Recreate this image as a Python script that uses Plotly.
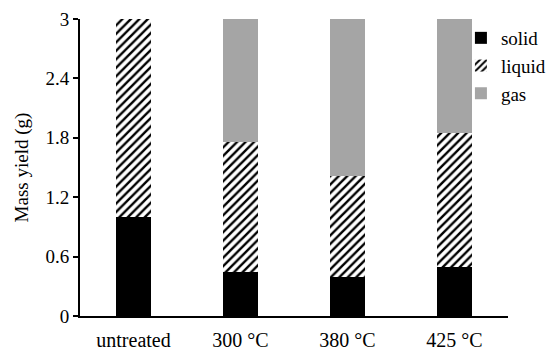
import plotly.graph_objects as go

categories = ["untreated", "300 °C", "380 °C", "425 °C"]
solid = [1.00, 0.44, 0.39, 0.50]
liquid = [2.00, 1.32, 1.02, 1.35]
gas = [0.00, 1.24, 1.59, 1.15]
y_ticks = [0, 0.6, 1.2, 1.8, 2.4, 3]
y_tick_labels = ["0", "0.6", "1.2", "1.8", "2.4", "3"]

FONT = "Liberation Serif"

fig = go.Figure()
fig.add_trace(go.Bar(x=categories, y=solid, name="solid",
                     marker=dict(color="black", line=dict(width=0))))
fig.add_trace(go.Bar(x=categories, y=liquid, name="liquid",
                     marker=dict(color="white", line=dict(width=0),
                                 pattern=dict(shape="/", fgcolor="black", bgcolor="white",
                                              size=6, solidity=0.4, fillmode="replace"))))
fig.add_trace(go.Bar(x=categories, y=gas, name="gas",
                     marker=dict(color="#a5a5a5", line=dict(width=0))))

fig.update_layout(
    barmode="stack",
    bargap=0.68,
    width=550, height=359,
    margin=dict(l=80, r=42, t=19, b=43, autoexpand=False),
    plot_bgcolor="white", paper_bgcolor="white",
    font=dict(family=FONT, size=19, color="black"),
    showlegend=True,
    legend=dict(x=0.89, y=1.0, xanchor="left", yanchor="top",
                bgcolor="rgba(0,0,0,0)", font=dict(size=19, family=FONT, color="black"),
                itemwidth=30, tracegroupgap=0, traceorder="normal"),
    xaxis=dict(showline=True, linecolor="black", linewidth=2, ticks="",
               showgrid=False, automargin=False,
               tickfont=dict(size=20, family=FONT, color="black"),
               ticklabelstandoff=5),
    yaxis=dict(range=[0, 3], tickvals=y_ticks, ticktext=y_tick_labels,
               showline=True, linecolor="black", linewidth=2,
               ticks="outside", ticklen=5, tickwidth=2, tickcolor="black",
               showgrid=False, zeroline=False, automargin=False,
               tickfont=dict(size=19, family=FONT, color="black"),
               title=dict(text="Mass yield (g)", font=dict(size=19, family=FONT, color="black"),
                          standoff=12)),
)

fig.write_html("out.html", config={"displayModeBar": False},
               post_script="document.body.style.margin='0';")
